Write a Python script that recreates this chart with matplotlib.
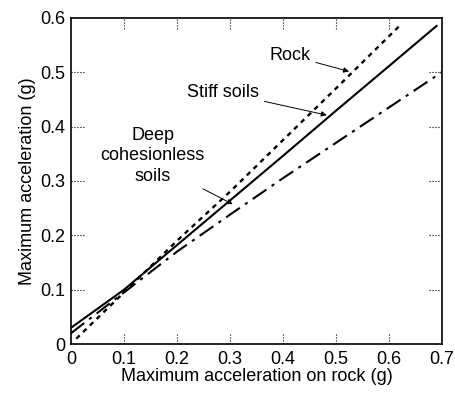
import numpy as np
import matplotlib.pyplot as plt

plt.rcParams['font.family'] = ['Liberation Sans', 'DejaVu Sans']

# values (g)
rock_x = [0.01, 0.1, 0.2, 0.3, 0.4, 0.5, 0.62]
rock_y = [0.01, 0.095, 0.19, 0.28, 0.375, 0.47, 0.585]

stiff_x = [0.0, 0.1, 0.2, 0.3, 0.4, 0.5, 0.6, 0.69]
stiff_y = [0.03, 0.10, 0.182, 0.264, 0.346, 0.429, 0.511, 0.585]

deep_x = [0.0, 0.1, 0.2, 0.3, 0.4, 0.5, 0.6, 0.7]
deep_y = [0.02, 0.095, 0.17, 0.238, 0.305, 0.37, 0.435, 0.5]

xticks = [0, 0.1, 0.2, 0.3, 0.4, 0.5, 0.6, 0.7]
yticks = [0, 0.1, 0.2, 0.3, 0.4, 0.5, 0.6]

fig = plt.figure(figsize=(4.55, 3.96), dpi=100)
ax = fig.add_axes([0.156, 0.131, 0.815, 0.824])

ax.plot(rock_x, rock_y, color='black', lw=1.7, linestyle=(0, (2, 2)))
ax.plot(stiff_x, stiff_y, color='black', lw=1.5, linestyle='-')
ax.plot(deep_x, deep_y, color='black', lw=1.5, linestyle=(0, (8, 3, 1.5, 3)))

ax.set_xlim(0, 0.7)
ax.set_ylim(0, 0.6)
ax.set_xticks(xticks)
ax.set_xticklabels(['0', '0.1', '0.2', '0.3', '0.4', '0.5', '0.6', '0.7'])
ax.set_yticks(yticks)
ax.set_yticklabels(['0', '0.1', '0.2', '0.3', '0.4', '0.5', '0.6'])
ax.tick_params(length=0, labelsize=13)
ax.tick_params(axis='x', pad=5)
ax.tick_params(axis='y', pad=4)

# dotted inward tick marks on all four sides
for x in xticks[1:-1]:
    ax.axvline(x, ymin=0, ymax=0.035, color='black', lw=0.8, ls=':')
    ax.axvline(x, ymin=0.965, ymax=1, color='black', lw=0.8, ls=':')
for y in yticks[1:-1]:
    ax.axhline(y, xmin=0, xmax=0.035, color='black', lw=0.8, ls=':')
    ax.axhline(y, xmin=0.965, xmax=1, color='black', lw=0.8, ls=':')

for s in ax.spines.values():
    s.set_linewidth(1.2)

ax.set_xlabel('Maximum acceleration on rock (g)', fontsize=13, labelpad=0)
ax.set_ylabel('Maximum acceleration (g)', fontsize=13, labelpad=3)

arrow = dict(arrowstyle='-|>', color='black', lw=0.7, mutation_scale=8)
ax.annotate('Rock', xy=(0.53, 0.50), xytext=(0.413, 0.531),
            ha='center', va='center', fontsize=13, arrowprops=arrow)
ax.annotate('Stiff soils', xy=(0.488, 0.42), xytext=(0.287, 0.463),
            ha='center', va='center', fontsize=13, arrowprops=arrow)
ax.annotate('Deep\ncohesionless\nsoils', xy=(0.31, 0.255), xytext=(0.154, 0.346),
            ha='center', va='center', fontsize=13, linespacing=1.25,
            arrowprops=dict(arrow, relpos=(0.8, 0.1)))

fig.savefig('out.png', dpi=100)
